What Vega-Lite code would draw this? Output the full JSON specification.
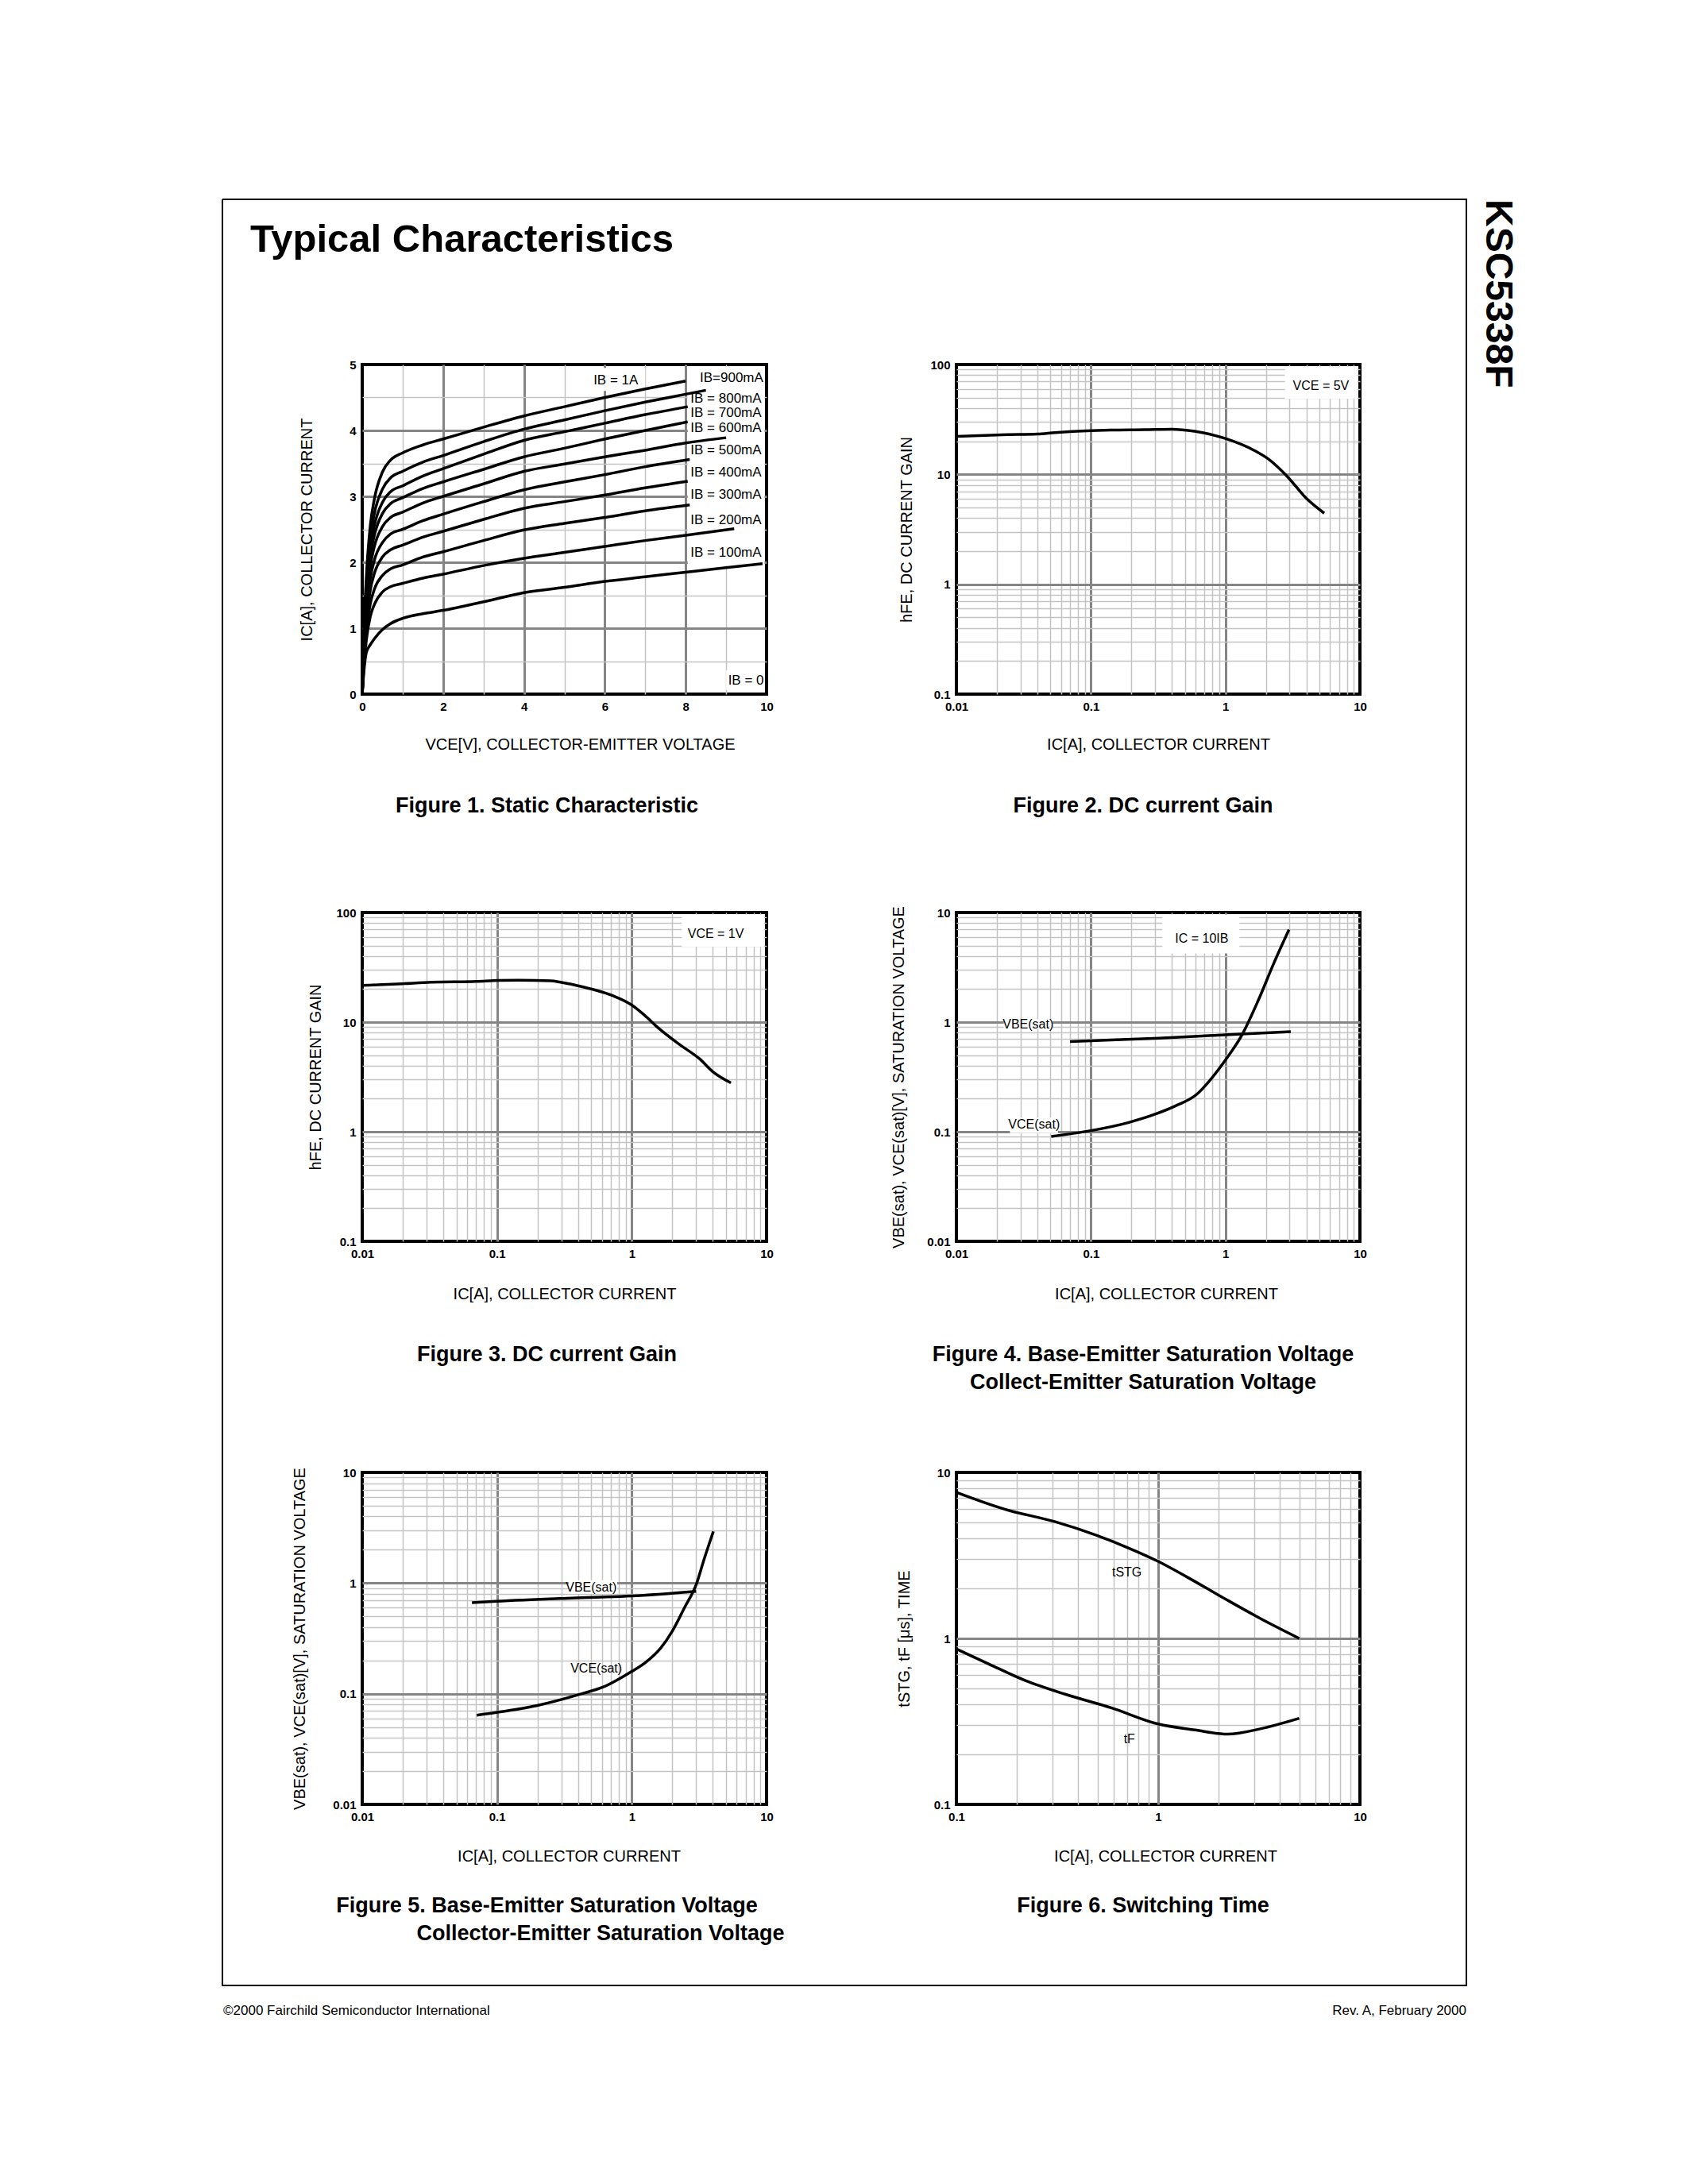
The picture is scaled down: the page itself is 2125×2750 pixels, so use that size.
{
 "$schema": "https://vega.github.io/schema/vega-lite/v6.json",
 "background": "white",
 "autosize": {"type": "pad"},
 "padding": {"left": 279, "top": 250, "right": 10, "bottom": 10},
 "data": {"values": []},
 "config": {
  "font": "Liberation Sans",
  "view": {"stroke": null},
  "axis": {"domain": false, "ticks": false, "tickSize": 0, "labelFontWeight": "bold", "labelFontSize": 15, "labelColor": "#000", "labelPadding": 8, "labelFlush": false, "labelOverlap": false, "labelBound": false, "titleFontWeight": "normal", "titleFontSize": 20, "titleColor": "#000", "grid": true},
  "text": {"color": "#000"},
  "title": {"color": "#000"}
 },
 "columns": 9, "bounds": "flush", "align": "each", "spacing": 0,
 "concat": [
  {"width":0.001,"height":0.001,"mark":"text"},
  {"width":34,"height":0.001,"mark":"text","view":{"stroke":"#000","strokeWidth":2}},
  {"width":141,"height":0.001,"mark":"text","view":{"stroke":"#000","strokeWidth":2}},
  {"width":509,"height":0.001,"mark":"text","view":{"stroke":"#000","strokeWidth":2}},
  {"width":239,"height":0.001,"mark":"text","view":{"stroke":"#000","strokeWidth":2}},
  {"width":508,"height":0.001,"mark":"text","view":{"stroke":"#000","strokeWidth":2}},
  {"width":134,"height":0.001,"mark":"text","view":{"stroke":"#000","strokeWidth":2}},
  {"width":0.001,"height":0.001,"mark":"text"},
  {"width":76,"height":0.001,"data":{"values":[{"t":"KSC5338F"}]},"mark":{"type":"text","angle":90,"align":"left","baseline":"middle","fontSize":48,"fontWeight":"bold"},"encoding":{"x":{"datum":0.5,"type":"quantitative","scale":{"domain":[0,1]},"axis":null},"text":{"field":"t"}}},

  {"width":0.001,"height":65,"mark":"text","view":{"stroke":"#000","strokeWidth":2}},
  {"width":0.001,"height":0.001,"mark":"text"},
  {"width":141,"height":65,"data":{"values":[{"t":"Typical Characteristics"}]},"mark":{"type":"text","align":"left","baseline":"alphabetic","fontSize":49,"fontWeight":"bold"},"encoding":{"x":{"datum":0,"type":"quantitative","scale":{"domain":[0,1]},"axis":null},"y":{"datum":0,"type":"quantitative","scale":{"domain":[0,1]},"axis":null},"text":{"field":"t"}}},
  {"width":0.001,"height":0.001,"mark":"text"},
  {"width":0.001,"height":0.001,"mark":"text"},
  {"width":0.001,"height":0.001,"mark":"text"},
  {"width":0.001,"height":0.001,"mark":"text"},
  {"width":0.001,"height":65,"mark":"text","view":{"stroke":"#000","strokeWidth":2}},
  {"width":0.001,"height":0.001,"mark":"text"},

  {"width":0.001,"height":142,"mark":"text","view":{"stroke":"#000","strokeWidth":2}},
  {"width":0.001,"height":0.001,"mark":"text"},
  {"width":0.001,"height":0.001,"mark":"text"},
  {"width":0.001,"height":0.001,"mark":"text"},
  {"width":0.001,"height":0.001,"mark":"text"},
  {"width":0.001,"height":0.001,"mark":"text"},
  {"width":0.001,"height":0.001,"mark":"text"},
  {"width":0.001,"height":142,"mark":"text","view":{"stroke":"#000","strokeWidth":2}},
  {"width":0.001,"height":0.001,"mark":"text"},

  {"width":0.001,"height":415,"mark":"text","view":{"stroke":"#000","strokeWidth":2}},
  {"width":0.001,"height":0.001,"mark":"text"},
  {"width":0.001,"height":0.001,"mark":"text"},
  {"width": 509, "height": 415, "view": {"stroke": "#000", "strokeWidth": 4},
   "title": {"text": "Figure 1. Static Characteristic", "orient": "bottom", "anchor": "middle", "frame": "group", "dx": -22, "offset": 55, "fontSize": 27, "fontWeight": "bold"},
   "encoding": {
    "x": {"field": "x", "type": "quantitative", "scale": {"domain": [0, 10], "nice": false, "zero": false},
     "axis": {"values": [0,1,2,3,4,5,6,7,8,9,10], "format": "d", "labelExpr": "datum.value % 2 === 0 ? datum.label : ''",
      "gridColor": {"condition": {"test": "datum.value % 2 === 0", "value": "#858585"}, "value": "#c4c4c4"},
      "gridWidth": {"condition": {"test": "datum.value % 2 === 0", "value": 3}, "value": 1.5},
      "gridOpacity": {"condition": {"test": "datum.value === 0 || datum.value === 10", "value": 0}, "value": 1},
      "title": "VCE[V], COLLECTOR-EMITTER VOLTAGE", "titlePadding": 30, "titleX": 274}},
    "y": {"field": "y", "type": "quantitative", "scale": {"domain": [0, 5], "nice": false, "zero": false},
     "axis": {"values": [0,0.5,1,1.5,2,2.5,3,3.5,4,4.5,5], "format": "~g", "labelExpr": "datum.value % 1 === 0 ? datum.label : ''",
      "gridColor": {"condition": {"test": "datum.value % 1 === 0", "value": "#858585"}, "value": "#c4c4c4"},
      "gridWidth": {"condition": {"test": "datum.value % 1 === 0", "value": 3}, "value": 1.5},
      "gridOpacity": {"condition": {"test": "datum.value === 0 || datum.value === 5", "value": 0}, "value": 1},
      "title": "IC[A], COLLECTOR CURRENT", "titlePadding": 43}}
   },
   "layer": [
    {"data": {"values": [{"x": 8.05, "x2": 9.95, "y": 1.95, "y2": 4.97}, {"x": 5.65, "x2": 7.0, "y": 4.6, "y2": 4.95}, {"x": 9.0, "x2": 9.95, "y": 0.06, "y2": 0.36}]},
     "mark": {"type": "rect", "fill": "white"}, "encoding": {"x2": {"field": "x2"}, "y2": {"field": "y2"}}},
    {"data": {"values": [
     {"s":"1A","x":0,"y":0},{"s":"1A","x":0.05,"y":1.1},{"s":"1A","x":0.1,"y":1.76},{"s":"1A","x":0.2,"y":2.56},{"s":"1A","x":0.3,"y":2.96},{"s":"1A","x":0.5,"y":3.37},{"s":"1A","x":0.7,"y":3.55},{"s":"1A","x":1,"y":3.66},{"s":"1A","x":1.5,"y":3.78},{"s":"1A","x":2,"y":3.87},{"s":"1A","x":3,"y":4.05},{"s":"1A","x":4,"y":4.22},{"s":"1A","x":5,"y":4.36},{"s":"1A","x":6,"y":4.5},{"s":"1A","x":7,"y":4.63},{"s":"1A","x":8,"y":4.75},
     {"s":"900","x":0,"y":0},{"s":"900","x":0.05,"y":1.01},{"s":"900","x":0.1,"y":1.62},{"s":"900","x":0.2,"y":2.37},{"s":"900","x":0.3,"y":2.74},{"s":"900","x":0.5,"y":3.11},{"s":"900","x":0.7,"y":3.28},{"s":"900","x":1,"y":3.38},{"s":"900","x":1.5,"y":3.52},{"s":"900","x":2,"y":3.62},{"s":"900","x":3,"y":3.83},{"s":"900","x":4,"y":4.02},{"s":"900","x":5,"y":4.16},{"s":"900","x":6,"y":4.3},{"s":"900","x":7,"y":4.43},{"s":"900","x":8,"y":4.55},{"s":"900","x":8.5,"y":4.61},
     {"s":"800","x":0,"y":0},{"s":"800","x":0.05,"y":0.95},{"s":"800","x":0.1,"y":1.52},{"s":"800","x":0.2,"y":2.21},{"s":"800","x":0.3,"y":2.56},{"s":"800","x":0.5,"y":2.91},{"s":"800","x":0.7,"y":3.07},{"s":"800","x":1,"y":3.16},{"s":"800","x":1.5,"y":3.31},{"s":"800","x":2,"y":3.42},{"s":"800","x":3,"y":3.64},{"s":"800","x":4,"y":3.85},{"s":"800","x":5,"y":3.98},{"s":"800","x":6,"y":4.11},{"s":"800","x":7,"y":4.24},{"s":"800","x":8.05,"y":4.36},
     {"s":"700","x":0,"y":0},{"s":"700","x":0.05,"y":0.89},{"s":"700","x":0.1,"y":1.43},{"s":"700","x":0.2,"y":2.09},{"s":"700","x":0.3,"y":2.41},{"s":"700","x":0.5,"y":2.74},{"s":"700","x":0.7,"y":2.89},{"s":"700","x":1,"y":2.98},{"s":"700","x":1.5,"y":3.12},{"s":"700","x":2,"y":3.22},{"s":"700","x":3,"y":3.41},{"s":"700","x":4,"y":3.6},{"s":"700","x":5,"y":3.73},{"s":"700","x":6,"y":3.87},{"s":"700","x":7,"y":4.0},{"s":"700","x":8.05,"y":4.13},
     {"s":"600","x":0,"y":0},{"s":"600","x":0.05,"y":0.83},{"s":"600","x":0.1,"y":1.32},{"s":"600","x":0.2,"y":1.93},{"s":"600","x":0.3,"y":2.24},{"s":"600","x":0.5,"y":2.54},{"s":"600","x":0.7,"y":2.68},{"s":"600","x":1,"y":2.76},{"s":"600","x":1.5,"y":2.9},{"s":"600","x":2,"y":3.0},{"s":"600","x":3,"y":3.19},{"s":"600","x":4,"y":3.38},{"s":"600","x":5,"y":3.49},{"s":"600","x":6,"y":3.6},{"s":"600","x":7,"y":3.7},{"s":"600","x":8,"y":3.81},{"s":"600","x":9,"y":3.89},
     {"s":"500","x":0,"y":0},{"s":"500","x":0.05,"y":0.75},{"s":"500","x":0.1,"y":1.2},{"s":"500","x":0.2,"y":1.75},{"s":"500","x":0.3,"y":2.03},{"s":"500","x":0.5,"y":2.3},{"s":"500","x":0.7,"y":2.43},{"s":"500","x":1,"y":2.5},{"s":"500","x":1.5,"y":2.63},{"s":"500","x":2,"y":2.73},{"s":"500","x":3,"y":2.92},{"s":"500","x":4,"y":3.1},{"s":"500","x":5,"y":3.22},{"s":"500","x":6,"y":3.33},{"s":"500","x":7,"y":3.45},{"s":"500","x":8.1,"y":3.56},
     {"s":"400","x":0,"y":0},{"s":"400","x":0.05,"y":0.68},{"s":"400","x":0.1,"y":1.08},{"s":"400","x":0.2,"y":1.58},{"s":"400","x":0.3,"y":1.83},{"s":"400","x":0.5,"y":2.08},{"s":"400","x":0.7,"y":2.19},{"s":"400","x":1,"y":2.26},{"s":"400","x":1.5,"y":2.38},{"s":"400","x":2,"y":2.47},{"s":"400","x":3,"y":2.65},{"s":"400","x":4,"y":2.82},{"s":"400","x":5,"y":2.92},{"s":"400","x":6,"y":3.02},{"s":"400","x":7,"y":3.13},{"s":"400","x":8.05,"y":3.23},
     {"s":"300","x":0,"y":0},{"s":"300","x":0.05,"y":0.59},{"s":"300","x":0.1,"y":0.94},{"s":"300","x":0.2,"y":1.37},{"s":"300","x":0.3,"y":1.59},{"s":"300","x":0.5,"y":1.8},{"s":"300","x":0.7,"y":1.9},{"s":"300","x":1,"y":1.96},{"s":"300","x":1.5,"y":2.08},{"s":"300","x":2,"y":2.16},{"s":"300","x":3,"y":2.33},{"s":"300","x":4,"y":2.49},{"s":"300","x":5,"y":2.59},{"s":"300","x":6,"y":2.68},{"s":"300","x":7,"y":2.78},{"s":"300","x":8.1,"y":2.87},
     {"s":"200","x":0,"y":0},{"s":"200","x":0.05,"y":0.5},{"s":"200","x":0.1,"y":0.81},{"s":"200","x":0.2,"y":1.18},{"s":"200","x":0.3,"y":1.36},{"s":"200","x":0.5,"y":1.55},{"s":"200","x":0.7,"y":1.63},{"s":"200","x":1,"y":1.68},{"s":"200","x":1.5,"y":1.76},{"s":"200","x":2,"y":1.82},{"s":"200","x":3,"y":1.95},{"s":"200","x":4,"y":2.06},{"s":"200","x":5,"y":2.15},{"s":"200","x":6,"y":2.24},{"s":"200","x":7,"y":2.33},{"s":"200","x":8,"y":2.41},{"s":"200","x":9.2,"y":2.51},
     {"s":"100","x":0,"y":0},{"s":"100","x":0.05,"y":0.4},{"s":"100","x":0.1,"y":0.63},{"s":"100","x":0.2,"y":0.75},{"s":"100","x":0.3,"y":0.84},{"s":"100","x":0.5,"y":0.98},{"s":"100","x":0.7,"y":1.07},{"s":"100","x":1,"y":1.15},{"s":"100","x":1.5,"y":1.22},{"s":"100","x":2,"y":1.27},{"s":"100","x":3,"y":1.4},{"s":"100","x":4,"y":1.54},{"s":"100","x":5,"y":1.62},{"s":"100","x":6,"y":1.71},{"s":"100","x":7,"y":1.78},{"s":"100","x":8,"y":1.85},{"s":"100","x":9,"y":1.92},{"s":"100","x":9.9,"y":1.98}
    ]}, "mark": {"type": "line", "color": "#000", "strokeWidth": 3.5, "interpolate": "monotone"}, "encoding": {"detail": {"field": "s", "type": "nominal"}}},
    {"data": {"values": [
     {"x": 5.72, "y": 4.76, "t": "IB = 1A"}, {"x": 8.35, "y": 4.8, "t": "IB=900mA"}, {"x": 8.12, "y": 4.48, "t": "IB = 800mA"}, {"x": 8.12, "y": 4.26, "t": "IB = 700mA"}, {"x": 8.12, "y": 4.04, "t": "IB = 600mA"}, {"x": 8.12, "y": 3.7, "t": "IB = 500mA"}, {"x": 8.12, "y": 3.36, "t": "IB = 400mA"}, {"x": 8.12, "y": 3.02, "t": "IB = 300mA"}, {"x": 8.12, "y": 2.64, "t": "IB = 200mA"}, {"x": 8.12, "y": 2.14, "t": "IB = 100mA"}, {"x": 9.05, "y": 0.21, "t": "IB = 0"}
    ]}, "mark": {"type": "text", "align": "left", "baseline": "middle", "fontSize": 17}, "encoding": {"text": {"field": "t"}}}
   ]
  },
  {"width":0.001,"height":0.001,"mark":"text"},
  {"width": 508, "height": 415, "view": {"stroke": "#000", "strokeWidth": 4},
   "title": {"text": "Figure 2. DC current Gain", "orient": "bottom", "anchor": "middle", "frame": "group", "dx": -19, "offset": 55, "fontSize": 27, "fontWeight": "bold"},
   "encoding": {
    "x": {"field": "x", "type": "quantitative", "scale": {"type": "log", "domain": [0.01, 10], "nice": false},
     "axis": {"values": [0.01,0.02,0.03,0.04,0.05,0.06,0.07,0.08,0.09,0.1,0.2,0.3,0.4,0.5,0.6,0.7,0.8,0.9,1,2,3,4,5,6,7,8,9,10], "format": "~g",
      "labelExpr": "indexof([0.01,0.1,1,10], datum.value) >= 0 ? datum.label : ''",
      "gridColor": {"condition": {"test": "indexof([0.01,0.1,1,10], datum.value) >= 0", "value": "#858585"}, "value": "#c4c4c4"},
      "gridWidth": {"condition": {"test": "indexof([0.01,0.1,1,10], datum.value) >= 0", "value": 3}, "value": 1.5},
      "gridOpacity": {"condition": {"test": "datum.value === 0.01 || datum.value === 10", "value": 0}, "value": 1},
      "title": "IC[A], COLLECTOR CURRENT", "titlePadding": 30}},
    "y": {"field": "y", "type": "quantitative", "scale": {"type": "log", "domain": [0.1, 100], "nice": false},
     "axis": {"values": [0.1,0.2,0.3,0.4,0.5,0.6,0.7,0.8,0.9,1,2,3,4,5,6,7,8,9,10,20,30,40,50,60,70,80,90,100], "format": "~g",
      "labelExpr": "indexof([0.1,1,10,100], datum.value) >= 0 ? datum.label : ''",
      "gridColor": {"condition": {"test": "indexof([0.1,1,10,100], datum.value) >= 0", "value": "#858585"}, "value": "#c4c4c4"},
      "gridWidth": {"condition": {"test": "indexof([0.1,1,10,100], datum.value) >= 0", "value": 3}, "value": 1.5},
      "gridOpacity": {"condition": {"test": "datum.value === 0.1 || datum.value === 100", "value": 0}, "value": 1},
      "title": "hFE, DC CURRENT GAIN", "titlePadding": 19}}
   },
   "layer": [
    {"data": {"values": [{"x": 2.77, "x2": 9.6, "y": 48.7, "y2": 96}]}, "mark": {"type": "rect", "fill": "white"}, "encoding": {"x2": {"field": "x2"}, "y2": {"field": "y2"}}},
    {"data": {"values": [
     {"s":"a","x":0.01,"y":22.2},{"s":"a","x":0.024,"y":23.0},{"s":"a","x":0.04,"y":23.3},{"s":"a","x":0.054,"y":24.0},{"s":"a","x":0.1,"y":25.0},{"s":"a","x":0.14,"y":25.3},{"s":"a","x":0.25,"y":25.5},{"s":"a","x":0.4,"y":25.8},{"s":"a","x":0.59,"y":24.7},{"s":"a","x":1.0,"y":21.2},{"s":"a","x":1.64,"y":16.5},{"s":"a","x":2.12,"y":13.6},{"s":"a","x":2.9,"y":9.5},{"s":"a","x":3.97,"y":6.1},{"s":"a","x":5.43,"y":4.43}
    ]}, "mark": {"type": "line", "color": "#000", "strokeWidth": 3.5, "interpolate": "monotone"}, "encoding": {"detail": {"field": "s", "type": "nominal"}}},
    {"data": {"values": [{"x": 5.13, "y": 64, "t": "VCE = 5V"}]}, "mark": {"type": "text", "align": "center", "baseline": "middle", "fontSize": 16}, "encoding": {"text": {"field": "t"}}}
   ]
  },
  {"width":0.001,"height":0.001,"mark":"text"},
  {"width":0.001,"height":415,"mark":"text","view":{"stroke":"#000","strokeWidth":2}},
  {"width":0.001,"height":0.001,"mark":"text"},

  {"width":0.001,"height":275,"mark":"text","view":{"stroke":"#000","strokeWidth":2}},
  {"width":0.001,"height":0.001,"mark":"text"},
  {"width":0.001,"height":0.001,"mark":"text"},
  {"width":0.001,"height":0.001,"mark":"text"},
  {"width":0.001,"height":0.001,"mark":"text"},
  {"width":0.001,"height":0.001,"mark":"text"},
  {"width":0.001,"height":0.001,"mark":"text"},
  {"width":0.001,"height":275,"mark":"text","view":{"stroke":"#000","strokeWidth":2}},
  {"width":0.001,"height":0.001,"mark":"text"},

  {"width":0.001,"height":414,"mark":"text","view":{"stroke":"#000","strokeWidth":2}},
  {"width":0.001,"height":0.001,"mark":"text"},
  {"width":0.001,"height":0.001,"mark":"text"},
  {"width": 509, "height": 414, "view": {"stroke": "#000", "strokeWidth": 4},
   "title": {"text": "Figure 3. DC current Gain", "orient": "bottom", "anchor": "middle", "frame": "group", "dx": -22, "offset": 54, "fontSize": 27, "fontWeight": "bold"},
   "encoding": {
    "x": {"field": "x", "type": "quantitative", "scale": {"type": "log", "domain": [0.01, 10], "nice": false},
     "axis": {"values": [0.01,0.02,0.03,0.04,0.05,0.06,0.07,0.08,0.09,0.1,0.2,0.3,0.4,0.5,0.6,0.7,0.8,0.9,1,2,3,4,5,6,7,8,9,10], "format": "~g",
      "labelExpr": "indexof([0.01,0.1,1,10], datum.value) >= 0 ? datum.label : ''",
      "gridColor": {"condition": {"test": "indexof([0.01,0.1,1,10], datum.value) >= 0", "value": "#858585"}, "value": "#c4c4c4"},
      "gridWidth": {"condition": {"test": "indexof([0.01,0.1,1,10], datum.value) >= 0", "value": 3}, "value": 1.5},
      "gridOpacity": {"condition": {"test": "datum.value === 0.01 || datum.value === 10", "value": 0}, "value": 1},
      "title": "IC[A], COLLECTOR CURRENT", "titlePadding": 33}},
    "y": {"field": "y", "type": "quantitative", "scale": {"type": "log", "domain": [0.1, 100], "nice": false},
     "axis": {"values": [0.1,0.2,0.3,0.4,0.5,0.6,0.7,0.8,0.9,1,2,3,4,5,6,7,8,9,10,20,30,40,50,60,70,80,90,100], "format": "~g",
      "labelExpr": "indexof([0.1,1,10,100], datum.value) >= 0 ? datum.label : ''",
      "gridColor": {"condition": {"test": "indexof([0.1,1,10,100], datum.value) >= 0", "value": "#858585"}, "value": "#c4c4c4"},
      "gridWidth": {"condition": {"test": "indexof([0.1,1,10,100], datum.value) >= 0", "value": 3}, "value": 1.5},
      "gridOpacity": {"condition": {"test": "datum.value === 0.1 || datum.value === 100", "value": 0}, "value": 1},
      "title": "hFE, DC CURRENT GAIN", "titlePadding": 15}}
   },
   "layer": [
    {"data": {"values": [{"x": 2.35, "x2": 9.6, "y": 48.7, "y2": 96}]}, "mark": {"type": "rect", "fill": "white"}, "encoding": {"x2": {"field": "x2"}, "y2": {"field": "y2"}}},
    {"data": {"values": [
     {"s":"a","x":0.01,"y":21.6},{"s":"a","x":0.0197,"y":22.4},{"s":"a","x":0.0324,"y":23.1},{"s":"a","x":0.0703,"y":23.5},{"s":"a","x":0.1035,"y":24.0},{"s":"a","x":0.144,"y":24.1},{"s":"a","x":0.251,"y":23.8},{"s":"a","x":0.296,"y":23.1},{"s":"a","x":0.436,"y":20.9},{"s":"a","x":0.716,"y":17.5},{"s":"a","x":1.0,"y":14.3},{"s":"a","x":1.245,"y":11.55},{"s":"a","x":1.55,"y":9.0},{"s":"a","x":2.29,"y":6.18},{"s":"a","x":3.18,"y":4.63},{"s":"a","x":3.97,"y":3.55},{"s":"a","x":5.44,"y":2.79}
    ]}, "mark": {"type": "line", "color": "#000", "strokeWidth": 3.5, "interpolate": "monotone"}, "encoding": {"detail": {"field": "s", "type": "nominal"}}},
    {"data": {"values": [{"x": 4.2, "y": 64, "t": "VCE = 1V"}]}, "mark": {"type": "text", "align": "center", "baseline": "middle", "fontSize": 16}, "encoding": {"text": {"field": "t"}}}
   ]
  },
  {"width":0.001,"height":0.001,"mark":"text"},
  {"width": 508, "height": 414, "view": {"stroke": "#000", "strokeWidth": 4},
   "title": {"text": ["Figure 4. Base-Emitter Saturation Voltage", "Collect-Emitter Saturation Voltage"], "lineHeight": 35, "orient": "bottom", "anchor": "middle", "frame": "group", "dx": -19, "offset": 54, "fontSize": 27, "fontWeight": "bold"},
   "encoding": {
    "x": {"field": "x", "type": "quantitative", "scale": {"type": "log", "domain": [0.01, 10], "nice": false},
     "axis": {"values": [0.01,0.02,0.03,0.04,0.05,0.06,0.07,0.08,0.09,0.1,0.2,0.3,0.4,0.5,0.6,0.7,0.8,0.9,1,2,3,4,5,6,7,8,9,10], "format": "~g",
      "labelExpr": "indexof([0.01,0.1,1,10], datum.value) >= 0 ? datum.label : ''",
      "gridColor": {"condition": {"test": "indexof([0.01,0.1,1,10], datum.value) >= 0", "value": "#858585"}, "value": "#c4c4c4"},
      "gridWidth": {"condition": {"test": "indexof([0.01,0.1,1,10], datum.value) >= 0", "value": 3}, "value": 1.5},
      "gridOpacity": {"condition": {"test": "datum.value === 0.01 || datum.value === 10", "value": 0}, "value": 1},
      "title": "IC[A], COLLECTOR CURRENT", "titlePadding": 33, "titleX": 264}},
    "y": {"field": "y", "type": "quantitative", "scale": {"type": "log", "domain": [0.01, 10], "nice": false},
     "axis": {"values": [0.01,0.02,0.03,0.04,0.05,0.06,0.07,0.08,0.09,0.1,0.2,0.3,0.4,0.5,0.6,0.7,0.8,0.9,1,2,3,4,5,6,7,8,9,10], "format": "~g",
      "labelExpr": "indexof([0.01,0.1,1,10], datum.value) >= 0 ? datum.label : ''",
      "gridColor": {"condition": {"test": "indexof([0.01,0.1,1,10], datum.value) >= 0", "value": "#858585"}, "value": "#c4c4c4"},
      "gridWidth": {"condition": {"test": "indexof([0.01,0.1,1,10], datum.value) >= 0", "value": 3}, "value": 1.5},
      "gridOpacity": {"condition": {"test": "datum.value === 0.01 || datum.value === 10", "value": 0}, "value": 1},
      "title": "VBE(sat), VCE(sat)[V], SATURATION VOLTAGE", "titlePadding": 25}}
   },
   "layer": [
    {"data": {"values": [{"x": 0.34, "x2": 1.27, "y": 4.24, "y2": 9.6}, {"x": 0.0225, "x2": 0.052, "y": 0.86, "y2": 1.06}, {"x": 0.025, "x2": 0.057, "y": 0.097, "y2": 0.135}]}, "mark": {"type": "rect", "fill": "white"}, "encoding": {"x2": {"field": "x2"}, "y2": {"field": "y2"}}},
    {"data": {"values": [
     {"s":"be","x":0.07,"y":0.664},{"s":"be","x":0.0995,"y":0.675},{"s":"be","x":0.32,"y":0.713},{"s":"be","x":1.0,"y":0.767},{"s":"be","x":3.06,"y":0.819},
     {"s":"ce","x":0.0507,"y":0.0906},{"s":"ce","x":0.1,"y":0.1023},{"s":"ce","x":0.189,"y":0.121},{"s":"ce","x":0.303,"y":0.145},{"s":"ce","x":0.43,"y":0.173},{"s":"ce","x":0.611,"y":0.219},{"s":"ce","x":0.773,"y":0.298},{"s":"ce","x":1.0,"y":0.451},{"s":"ce","x":1.31,"y":0.741},{"s":"ce","x":1.75,"y":1.567},{"s":"ce","x":2.28,"y":3.4},{"s":"ce","x":2.97,"y":6.98}
    ]}, "mark": {"type": "line", "color": "#000", "strokeWidth": 3.5, "interpolate": "monotone"}, "encoding": {"detail": {"field": "s", "type": "nominal"}}},
    {"data": {"values": [{"x": 0.667, "y": 5.75, "t": "IC = 10IB"}, {"x": 0.0341, "y": 0.95, "t": "VBE(sat)"}, {"x": 0.0378, "y": 0.116, "t": "VCE(sat)"}]}, "mark": {"type": "text", "align": "center", "baseline": "middle", "fontSize": 16}, "encoding": {"text": {"field": "t"}}}
   ]
  },
  {"width":0.001,"height":0.001,"mark":"text"},
  {"width":0.001,"height":414,"mark":"text","view":{"stroke":"#000","strokeWidth":2}},
  {"width":0.001,"height":0.001,"mark":"text"},

  {"width":0.001,"height":291,"mark":"text","view":{"stroke":"#000","strokeWidth":2}},
  {"width":0.001,"height":0.001,"mark":"text"},
  {"width":0.001,"height":0.001,"mark":"text"},
  {"width":0.001,"height":0.001,"mark":"text"},
  {"width":0.001,"height":0.001,"mark":"text"},
  {"width":0.001,"height":0.001,"mark":"text"},
  {"width":0.001,"height":0.001,"mark":"text"},
  {"width":0.001,"height":291,"mark":"text","view":{"stroke":"#000","strokeWidth":2}},
  {"width":0.001,"height":0.001,"mark":"text"},

  {"width":0.001,"height":418,"mark":"text","view":{"stroke":"#000","strokeWidth":2}},
  {"width":0.001,"height":0.001,"mark":"text"},
  {"width":0.001,"height":0.001,"mark":"text"},
  {"width": 509, "height": 418, "view": {"stroke": "#000", "strokeWidth": 4},
   "title": {"text": ["Figure 5. Base-Emitter Saturation Voltage", "\u200b\u00a0\u00a0\u00a0\u00a0\u00a0\u00a0\u00a0\u00a0\u00a0\u00a0\u00a0\u00a0\u00a0\u00a0\u00a0\u00a0\u00a0\u00a0Collector-Emitter Saturation Voltage"], "lineHeight": 35, "orient": "bottom", "anchor": "middle", "frame": "group", "dx": -22, "offset": 40, "fontSize": 27, "fontWeight": "bold"},
   "encoding": {
    "x": {"field": "x", "type": "quantitative", "scale": {"type": "log", "domain": [0.01, 10], "nice": false},
     "axis": {"values": [0.01,0.02,0.03,0.04,0.05,0.06,0.07,0.08,0.09,0.1,0.2,0.3,0.4,0.5,0.6,0.7,0.8,0.9,1,2,3,4,5,6,7,8,9,10], "format": "~g",
      "labelExpr": "indexof([0.01,0.1,1,10], datum.value) >= 0 ? datum.label : ''",
      "gridColor": {"condition": {"test": "indexof([0.01,0.1,1,10], datum.value) >= 0", "value": "#858585"}, "value": "#c4c4c4"},
      "gridWidth": {"condition": {"test": "indexof([0.01,0.1,1,10], datum.value) >= 0", "value": 3}, "value": 1.5},
      "gridOpacity": {"condition": {"test": "datum.value === 0.01 || datum.value === 10", "value": 0}, "value": 1},
      "title": "IC[A], COLLECTOR CURRENT", "titlePadding": 32, "titleX": 260}},
    "y": {"field": "y", "type": "quantitative", "scale": {"type": "log", "domain": [0.01, 10], "nice": false},
     "axis": {"values": [0.01,0.02,0.03,0.04,0.05,0.06,0.07,0.08,0.09,0.1,0.2,0.3,0.4,0.5,0.6,0.7,0.8,0.9,1,2,3,4,5,6,7,8,9,10], "format": "~g",
      "labelExpr": "indexof([0.01,0.1,1,10], datum.value) >= 0 ? datum.label : ''",
      "gridColor": {"condition": {"test": "indexof([0.01,0.1,1,10], datum.value) >= 0", "value": "#858585"}, "value": "#c4c4c4"},
      "gridWidth": {"condition": {"test": "indexof([0.01,0.1,1,10], datum.value) >= 0", "value": 3}, "value": 1.5},
      "gridOpacity": {"condition": {"test": "datum.value === 0.01 || datum.value === 10", "value": 0}, "value": 1},
      "title": "VBE(sat), VCE(sat)[V], SATURATION VOLTAGE", "titlePadding": 31}}
   },
   "layer": [
    {"data": {"values": [{"x": 0.34, "x2": 0.78, "y": 0.8, "y2": 1.06}]}, "mark": {"type": "rect", "fill": "white"}, "encoding": {"x2": {"field": "x2"}, "y2": {"field": "y2"}}},
    {"data": {"values": [
     {"s":"be","x":0.0652,"y":0.664},{"s":"be","x":0.0986,"y":0.684},{"s":"be","x":0.36,"y":0.732},{"s":"be","x":1.0,"y":0.765},{"s":"be","x":3.0,"y":0.843},
     {"s":"ce","x":0.0708,"y":0.064},{"s":"ce","x":0.0986,"y":0.0677},{"s":"ce","x":0.196,"y":0.078},{"s":"ce","x":0.402,"y":0.098},{"s":"ce","x":0.625,"y":0.116},{"s":"ce","x":1.0,"y":0.159},{"s":"ce","x":1.28,"y":0.194},{"s":"ce","x":1.64,"y":0.259},{"s":"ce","x":1.99,"y":0.365},{"s":"ce","x":2.48,"y":0.61},{"s":"ce","x":3.0,"y":0.962},{"s":"ce","x":3.45,"y":1.66},{"s":"ce","x":4.03,"y":2.93}
    ]}, "mark": {"type": "line", "color": "#000", "strokeWidth": 3.5, "interpolate": "monotone"}, "encoding": {"detail": {"field": "s", "type": "nominal"}}},
    {"data": {"values": [{"x": 0.5, "y": 0.91, "t": "VBE(sat)"}, {"x": 0.545, "y": 0.169, "t": "VCE(sat)"}]}, "mark": {"type": "text", "align": "center", "baseline": "middle", "fontSize": 16}, "encoding": {"text": {"field": "t"}}}
   ]
  },
  {"width":0.001,"height":0.001,"mark":"text"},
  {"width": 508, "height": 418, "view": {"stroke": "#000", "strokeWidth": 4},
   "title": {"text": "Figure 6. Switching Time", "orient": "bottom", "anchor": "middle", "frame": "group", "dx": -19, "offset": 40, "fontSize": 27, "fontWeight": "bold"},
   "encoding": {
    "x": {"field": "x", "type": "quantitative", "scale": {"type": "log", "domain": [0.1, 10], "nice": false},
     "axis": {"values": [0.1,0.2,0.3,0.4,0.5,0.6,0.7,0.8,0.9,1,2,3,4,5,6,7,8,9,10], "format": "~g",
      "labelExpr": "indexof([0.1,1,10], datum.value) >= 0 ? datum.label : ''",
      "gridColor": {"condition": {"test": "indexof([0.1,1,10], datum.value) >= 0", "value": "#858585"}, "value": "#c4c4c4"},
      "gridWidth": {"condition": {"test": "indexof([0.1,1,10], datum.value) >= 0", "value": 3}, "value": 1.5},
      "gridOpacity": {"condition": {"test": "datum.value === 0.1 || datum.value === 10", "value": 0}, "value": 1},
      "title": "IC[A], COLLECTOR CURRENT", "titlePadding": 32, "titleX": 263}},
    "y": {"field": "y", "type": "quantitative", "scale": {"type": "log", "domain": [0.1, 10], "nice": false},
     "axis": {"values": [0.1,0.2,0.3,0.4,0.5,0.6,0.7,0.8,0.9,1,2,3,4,5,6,7,8,9,10], "format": "~g",
      "labelExpr": "indexof([0.1,1,10], datum.value) >= 0 ? datum.label : ''",
      "gridColor": {"condition": {"test": "indexof([0.1,1,10], datum.value) >= 0", "value": "#858585"}, "value": "#c4c4c4"},
      "gridWidth": {"condition": {"test": "indexof([0.1,1,10], datum.value) >= 0", "value": 3}, "value": 1.5},
      "gridOpacity": {"condition": {"test": "datum.value === 0.1 || datum.value === 10", "value": 0}, "value": 1},
      "title": "tSTG, tF [μs], TIME", "titlePadding": 27}}
   },
   "layer": [
    {"data": {"values": [
     {"s":"stg","x":0.1,"y":7.58},{"s":"stg","x":0.175,"y":5.98},{"s":"stg","x":0.309,"y":5.04},{"s":"stg","x":0.497,"y":4.17},{"s":"stg","x":0.711,"y":3.51},{"s":"stg","x":1.0,"y":2.91},{"s":"stg","x":1.41,"y":2.32},{"s":"stg","x":2.13,"y":1.74},{"s":"stg","x":3.24,"y":1.31},{"s":"stg","x":5.0,"y":1.0},
     {"s":"f","x":0.1,"y":0.863},{"s":"f","x":0.145,"y":0.7},{"s":"f","x":0.22,"y":0.557},{"s":"f","x":0.346,"y":0.461},{"s":"f","x":0.589,"y":0.381},{"s":"f","x":1.0,"y":0.305},{"s":"f","x":1.52,"y":0.281},{"s":"f","x":2.21,"y":0.265},{"s":"f","x":3.24,"y":0.286},{"s":"f","x":5.0,"y":0.33}
    ]}, "mark": {"type": "line", "color": "#000", "strokeWidth": 3.5, "interpolate": "monotone"}, "encoding": {"detail": {"field": "s", "type": "nominal"}}},
    {"data": {"values": [{"x": 0.7, "y": 2.5, "t": "tSTG"}, {"x": 0.72, "y": 0.246, "t": "tF"}]}, "mark": {"type": "text", "align": "center", "baseline": "middle", "fontSize": 16}, "encoding": {"text": {"field": "t"}}}
   ]
  },
  {"width":0.001,"height":0.001,"mark":"text"},
  {"width":0.001,"height":418,"mark":"text","view":{"stroke":"#000","strokeWidth":2}},
  {"width":0.001,"height":0.001,"mark":"text"},

  {"width":0.001,"height":228,"mark":"text","view":{"stroke":"#000","strokeWidth":2}},
  {"width":0.001,"height":0.001,"mark":"text"},
  {"width":0.001,"height":0.001,"mark":"text"},
  {"width":0.001,"height":0.001,"mark":"text"},
  {"width":0.001,"height":0.001,"mark":"text"},
  {"width":0.001,"height":0.001,"mark":"text"},
  {"width":0.001,"height":0.001,"mark":"text"},
  {"width":0.001,"height":228,"mark":"text","view":{"stroke":"#000","strokeWidth":2}},
  {"width":0.001,"height":0.001,"mark":"text"},

  {"width":0.001,"height":0.001,"mark":"text"},
  {"width":34,"height":0.001,"mark":"text","view":{"stroke":"#000","strokeWidth":2}},
  {"width":141,"height":0.001,"mark":"text","view":{"stroke":"#000","strokeWidth":2}},
  {"width":509,"height":0.001,"mark":"text","view":{"stroke":"#000","strokeWidth":2}},
  {"width":239,"height":0.001,"mark":"text","view":{"stroke":"#000","strokeWidth":2}},
  {"width":508,"height":0.001,"mark":"text","view":{"stroke":"#000","strokeWidth":2}},
  {"width":134,"height":0.001,"mark":"text","view":{"stroke":"#000","strokeWidth":2}},
  {"width":0.001,"height":0.001,"mark":"text"},
  {"width":0.001,"height":0.001,"mark":"text"},

  {"width":0.001,"height":0.001,"mark":"text"},
  {"width":34,"height":31,"data":{"values":[{"t":"©2000 Fairchild Semiconductor International"}]},"mark":{"type":"text","align":"left","baseline":"middle","fontSize":17},"encoding":{"x":{"datum":0,"type":"quantitative","scale":{"domain":[0,1]},"axis":null},"y":{"datum":0,"type":"quantitative","scale":{"domain":[0,1]},"axis":null},"text":{"field":"t"}}},
  {"width":0.001,"height":0.001,"mark":"text"},
  {"width":0.001,"height":0.001,"mark":"text"},
  {"width":0.001,"height":0.001,"mark":"text"},
  {"width":0.001,"height":0.001,"mark":"text"},
  {"width":134,"height":31,"data":{"values":[{"t":"Rev. A, February 2000"}]},"mark":{"type":"text","align":"right","baseline":"middle","fontSize":17},"encoding":{"x":{"datum":1,"type":"quantitative","scale":{"domain":[0,1]},"axis":null},"y":{"datum":0,"type":"quantitative","scale":{"domain":[0,1]},"axis":null},"text":{"field":"t"}}},
  {"width":0.001,"height":0.001,"mark":"text"},
  {"width":0.001,"height":0.001,"mark":"text"}
 ]
}
